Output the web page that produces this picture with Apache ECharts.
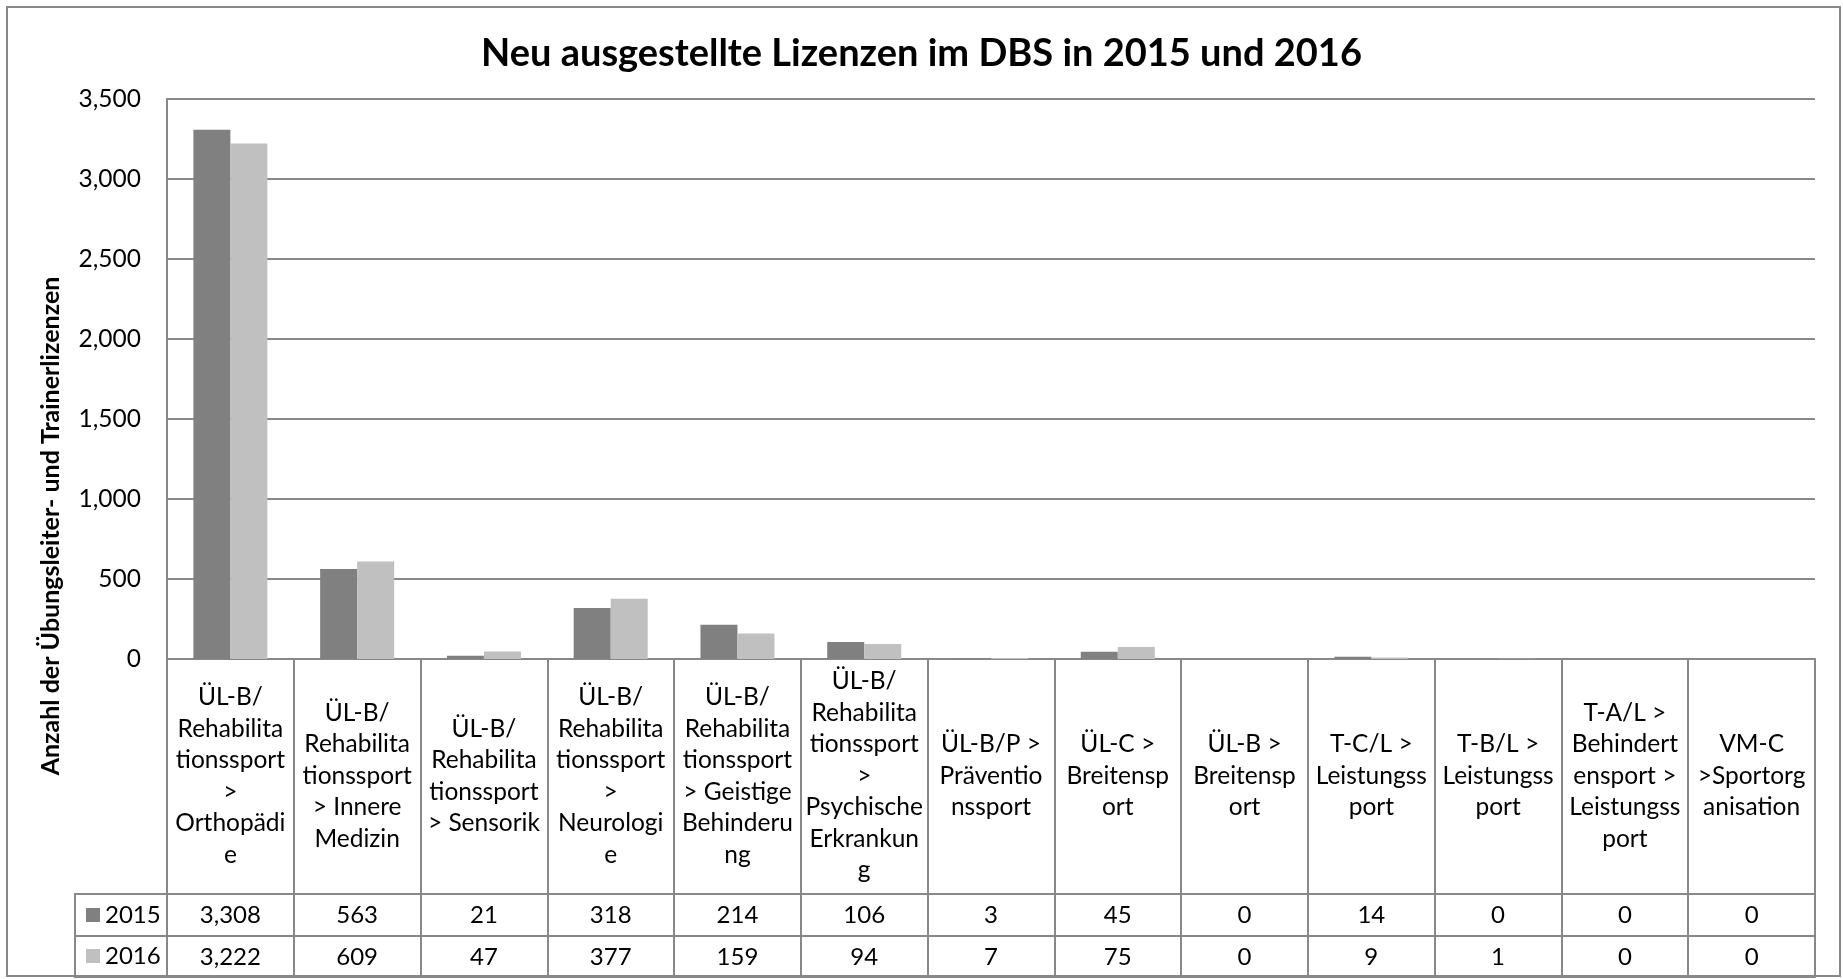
<!DOCTYPE html>
<html>
<head>
<meta charset="utf-8">
<script src="https://cdn.jsdelivr.net/npm/echarts@6/dist/echarts.min.js"></script>
<style>
  html, body { margin: 0; padding: 0; background: #fff; }
  #chart { width: 1843px; height: 979px; }
</style>
</head>
<body>
<div id="chart"></div>
<script>
// categories, wrapped the same way as in the original table header
const categories = [
  'ÜL-B/\nRehabilita\ntionssport\n>\nOrthopädi\ne',
  'ÜL-B/\nRehabilita\ntionssport\n> Innere\nMedizin',
  'ÜL-B/\nRehabilita\ntionssport\n> Sensorik',
  'ÜL-B/\nRehabilita\ntionssport\n>\nNeurologi\ne',
  'ÜL-B/\nRehabilita\ntionssport\n> Geistige\nBehinderu\nng',
  'ÜL-B/\nRehabilita\ntionssport\n>\nPsychische\nErkrankun\ng',
  'ÜL-B/P >\nPräventio\nnssport',
  'ÜL-C >\nBreitensp\nort',
  'ÜL-B >\nBreitensp\nort',
  'T-C/L >\nLeistungss\nport',
  'T-B/L >\nLeistungss\nport',
  'T-A/L >\nBehindert\nensport >\nLeistungss\nport',
  'VM-C\n>Sportorg\nanisation'
];
const years = ['2015', '2016'];
const values2015 = [3308, 563, 21, 318, 214, 106, 3, 45, 0, 14, 0, 0, 0];
const values2016 = [3222, 609, 47, 377, 159, 94, 7, 75, 0, 9, 1, 0, 0];
const yMax = 3500;
const yStep = 500;

const FONT = 'Lato, "Open Sans", sans-serif';
const LINE = '#888888';
const fmt = v => v.toLocaleString('en-US');

const chart = echarts.init(document.getElementById('chart'));

// row axes of the data table below the plot
function tableRow(offset, values) {
  return {
    type: 'category',
    gridIndex: 0,
    position: 'bottom',
    offset: offset,
    data: categories,
    axisLine: { show: true, lineStyle: { color: LINE, width: 2 } },
    axisTick: { show: false },
    axisLabel: {
      show: !!values,
      interval: 0,
      margin: 21,
      verticalAlign: 'middle',
      fontFamily: FONT,
      fontSize: 24,
      color: '#000',
      formatter: (v, i) => values ? fmt(values[i]) : ''
    }
  };
}

const option = {
  backgroundColor: '#fff',
  animation: false,
  title: {
    text: 'Neu ausgestellte Lizenzen im DBS in 2015 und 2016',
    left: 'center',
    top: 30,
    textStyle: { fontFamily: FONT, fontWeight: 'bold', fontSize: 38, color: '#000' }
  },
  legend: {
    data: years,
    orient: 'vertical',
    left: 86,
    top: 901,
    padding: 0,
    icon: 'rect',
    itemWidth: 14,
    itemHeight: 14,
    itemGap: 13,
    selectedMode: false,
    textStyle: { fontFamily: FONT, fontSize: 24, color: '#000', lineHeight: 28 }
  },
  grid: { left: 167, right: 28, top: 99, height: 560 },
  xAxis: [
    {
      type: 'category',
      data: categories,
      axisLine: { lineStyle: { color: LINE, width: 2 } },
      axisTick: { show: true, interval: 0, length: 318, lineStyle: { color: LINE, width: 2 } },
      axisLabel: {
        interval: 0,
        margin: 117,
        verticalAlign: 'middle',
        align: 'center',
        lineHeight: 31.5,
        fontFamily: FONT,
        fontSize: 24.5,
        color: '#000'
      }
    },
    tableRow(235, values2015),
    tableRow(277, values2016),
    tableRow(318, null)
  ],
  yAxis: {
    type: 'value',
    min: 0,
    max: yMax,
    interval: yStep,
    axisLine: { show: true, lineStyle: { color: LINE, width: 2 } },
    axisTick: { show: false },
    splitLine: { lineStyle: { color: LINE, width: 2 } },
    axisLabel: {
      margin: 26,
      fontFamily: FONT,
      fontSize: 24.5,
      color: '#000',
      formatter: v => fmt(v)
    }
  },
  series: [
    {
      name: years[0],
      type: 'bar',
      data: values2015,
      itemStyle: { color: '#808080' },
      barGap: '0%',
      barCategoryGap: '41.6%'
    },
    {
      name: years[1],
      type: 'bar',
      data: values2016,
      itemStyle: { color: '#c0c0c0' },
      barGap: '0%',
      barCategoryGap: '41.6%'
    }
  ],
  graphic: [
    {
      type: 'rect',
      shape: { x: 7, y: 7, width: 1833, height: 969 },
      style: { fill: null, stroke: LINE, lineWidth: 2 },
      silent: true
    },
    {
      type: 'rect',
      shape: { x: 75, y: 894, width: 92, height: 83 },
      style: { fill: null, stroke: LINE, lineWidth: 2 },
      silent: true
    },
    {
      type: 'line',
      shape: { x1: 75, y1: 936, x2: 167, y2: 936 },
      style: { stroke: LINE, lineWidth: 2 },
      silent: true
    },
    {
      type: 'text',
      x: 51,
      y: 526,
      rotation: Math.PI / 2,
      style: {
        text: 'Anzahl der Übungsleiter- und Trainerlizenzen',
        font: 'bold 25px ' + FONT,
        fill: '#000',
        align: 'center',
        verticalAlign: 'middle'
      },
      silent: true
    }
  ]
};

chart.setOption(option);
</script>
</body>
</html>
